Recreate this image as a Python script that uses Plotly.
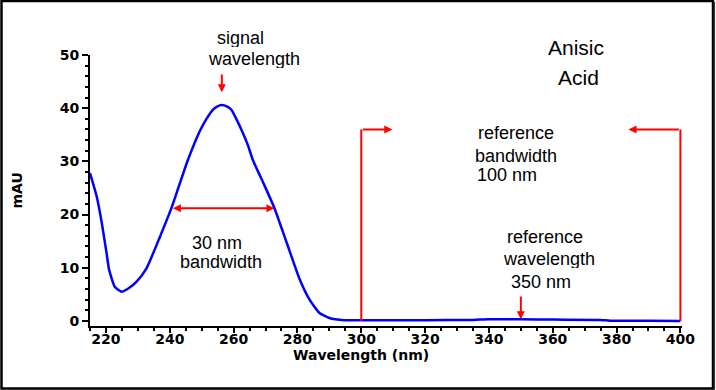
import plotly.graph_objects as go

# ---- data ----
wavelength = [215.0, 217.1, 218.7, 220.2, 221.0, 222.8, 224.9, 227.0, 229.6, 232.7, 236.9,
              240.5, 243.0, 245.7, 249.5, 251.5, 253.5, 254.8, 256.3, 258.0, 259.3, 261.0,
              262.7, 264.5, 266.0, 269.5, 272.8, 276.7, 280.6, 283.8, 286.9, 290.0, 294.7,
              300.0, 320.0, 335.0, 340.0, 350.0, 360.0, 375.0, 378.0, 390.0, 400.0]
absorbance = [27.8, 23.4, 18.4, 12.7, 9.6, 6.4, 5.5, 6.1, 7.4, 9.9, 15.8,
              21.2, 25.6, 30.3, 35.8, 38.0, 39.7, 40.3, 40.6, 40.3, 39.7, 37.8,
              35.6, 33.0, 30.3, 25.7, 21.2, 14.6, 8.0, 4.0, 1.5, 0.56, 0.15,
              0.15, 0.15, 0.2, 0.3, 0.3, 0.25, 0.2, 0.05, 0.05, 0.0]

x_ticks = [220, 240, 260, 280, 300, 320, 340, 360, 380, 400]
y_ticks = [0, 10, 20, 30, 40, 50]

signal_wl = 256.3
bandwidth_edges = [240.5, 272.8]
bandwidth_level = 21.2
reference_wl = 350
reference_band = [300, 400]
bracket_level = 36.0

RED = "#ff0000"
BLUE = "#0000ff"
TXT = dict(family="Liberation Sans, Arial, sans-serif", size=18, color="black")
TICKFONT = dict(family="DejaVu Sans, sans-serif", size=14, color="black", weight="bold")

PL, PT, PW, PH = 90, 55, 592, 271  # plot area in px


def px_x(px):
    return (px - PL) / PW


def px_y(py):
    return (PT + PH - py) / PH


fig = go.Figure()
fig.add_trace(go.Scatter(x=wavelength, y=absorbance, mode="lines",
                         line=dict(color=BLUE, width=2.5, shape="spline", smoothing=0.5),
                         hoverinfo="skip"))

shapes = []
for wl in reference_band:
    shapes.append(dict(type="line", xref="x", yref="y", x0=wl, x1=wl, y0=0, y1=bracket_level,
                       line=dict(color=RED, width=2)))
# outer frame (slightly heavier right/bottom edge)
shapes.append(dict(type="rect", xref="paper", yref="paper", x0=px_x(1.5), x1=px_x(713),
                   y0=px_y(388.5), y1=px_y(1), line=dict(color="black", width=2.5)))
shapes.append(dict(type="line", xref="paper", yref="paper", x0=px_x(714.3), x1=px_x(714.3),
                   y0=px_y(389.8), y1=px_y(2), line=dict(color="#333333", width=1.5)))
shapes.append(dict(type="line", xref="paper", yref="paper", x0=px_x(2), x1=px_x(714.3),
                   y0=px_y(389.8), y1=px_y(389.8), line=dict(color="#333333", width=1.5)))

ann = []
arrow_common = dict(xref="x", yref="y", axref="x", ayref="y", text="", showarrow=True,
                    arrowhead=2, arrowsize=0.8, arrowwidth=2, arrowcolor=RED)
ann.append(dict(x=signal_wl, y=43.0, ax=signal_wl, ay=46.6, **arrow_common))
ann.append(dict(x=reference_wl, y=0.3, ax=reference_wl, ay=4.9, **arrow_common))
ann.append(dict(x=bandwidth_edges[1], y=bandwidth_level, ax=bandwidth_edges[0], ay=bandwidth_level,
                startarrowhead=2, arrowside="end+start", startarrowsize=0.8, **arrow_common))
ann.append(dict(x=309.7, y=bracket_level, ax=reference_band[0], ay=bracket_level, **arrow_common))
ann.append(dict(x=383.75, y=bracket_level, ax=reference_band[1], ay=bracket_level, **arrow_common))

# text labels (one per line): text, x px, y px, size
labels = [
    ("signal", 240, 38, 18),
    ("wavelength", 254, 59, 18),
    ("Anisic", 576, 48, 21),
    ("Acid", 578, 77, 21),
    ("reference", 516, 132.7, 18),
    ("bandwidth", 516, 155.7, 18),
    ("100 nm", 507, 174.5, 18),
    ("30 nm", 217, 243, 18),
    ("bandwidth", 221, 261.7, 18),
    ("reference", 545, 236.7, 18),
    ("wavelength", 549, 259, 18),
    ("350 nm", 541, 281.7, 18),
]
for t, x, y, s in labels:
    ann.append(dict(x=px_x(x), y=px_y(y), xref="paper", yref="paper", text=t, showarrow=False,
                    xanchor="center", yanchor="middle", height=s, borderpad=0,
                    font=dict(TXT, size=s)))

# axis titles
ann.append(dict(x=px_x(361), y=px_y(354), xref="paper", yref="paper",
                text="Wavelength (nm)", showarrow=False, xanchor="center", yanchor="middle",
                height=17, borderpad=0, font=TICKFONT))
ann.append(dict(x=px_x(16), y=0.5, xref="paper", yref="paper", text="mAU",
                showarrow=False, textangle=-90, xanchor="center", yanchor="middle", font=TICKFONT))

fig.update_layout(
    width=716, height=390,
    margin=dict(l=PL, r=716 - PL - PW, t=PT, b=390 - PT - PH, pad=0, autoexpand=False),
    paper_bgcolor="white", plot_bgcolor="white",
    showlegend=False,
    shapes=shapes, annotations=ann,
    xaxis=dict(range=[215, 400.5], tickvals=x_ticks, ticktext=[str(v) for v in x_ticks],
               showgrid=False, zeroline=False, showline=True, linecolor="black", linewidth=2,
               ticks="outside", ticklen=5, tickwidth=2, tickcolor="black", tickfont=TICKFONT,
               automargin=False, ticklabelstandoff=-6,
               minor=dict(dtick=5, tick0=0, ticks="outside", ticklen=3, tickwidth=2, tickcolor="black")),
    yaxis=dict(range=[-0.95, 50], tickvals=y_ticks, ticktext=[str(v) for v in y_ticks],
               showgrid=False, zeroline=False, showline=True, linecolor="black", linewidth=2,
               ticks="outside", ticklen=6, tickwidth=2, tickcolor="black", tickfont=TICKFONT,
               automargin=False,
               minor=dict(dtick=2, tick0=0, ticks="outside", ticklen=3, tickwidth=2, tickcolor="black")),
)

fig.write_html("out.html", config={"displayModeBar": False},
               post_script="document.body.style.margin='0';document.body.style.overflow='hidden';")
